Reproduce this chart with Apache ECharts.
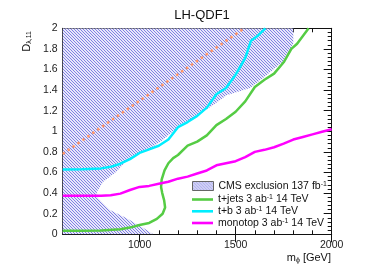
<!DOCTYPE html>
<html>
<head>
<meta charset="utf-8">
<script src="https://cdn.jsdelivr.net/npm/echarts@6/dist/echarts.min.js"></script>
<style>html,body{margin:0;padding:0;background:#fff}#c{width:390px;height:280px}</style>
</head>
<body>
<div id="c"></div>
<script>
// ---- data ----
const titleText = 'LH-QDF1';
const xTickLabels = [1000, 1500, 2000];
const tjetsCurve = [[600,0.035],[700,0.035],[800,0.037],[900,0.05],[950,0.065],[1000,0.09],[1050,0.11],[1090,0.15],[1120,0.2],[1133,0.26],[1128,0.33],[1118,0.40],[1112,0.46],[1115,0.53],[1130,0.62],[1150,0.69],[1175,0.74],[1200,0.77],[1250,0.86],[1300,0.9],[1350,0.96],[1400,1.06],[1450,1.12],[1500,1.19],[1550,1.29],[1600,1.43],[1650,1.5],[1700,1.56],[1750,1.67],[1790,1.8],[1820,1.85],[1880,2.0]];
const tbCurve = [[600,0.63],[700,0.632],[800,0.64],[850,0.655],[900,0.685],[950,0.73],[1000,0.79],[1050,0.825],[1100,0.86],[1150,0.92],[1200,1.04],[1250,1.09],[1300,1.15],[1350,1.23],[1400,1.36],[1450,1.42],[1500,1.55],[1550,1.71],[1580,1.88],[1610,1.92],[1655,2.0]];
const monotopCurve = [[600,0.375],[800,0.375],[850,0.38],[900,0.395],[950,0.43],[1000,0.46],[1050,0.47],[1100,0.49],[1150,0.51],[1200,0.54],[1250,0.56],[1300,0.59],[1350,0.62],[1400,0.67],[1450,0.69],[1500,0.71],[1550,0.75],[1600,0.8],[1650,0.82],[1700,0.845],[1750,0.88],[1800,0.92],[1850,0.945],[1900,0.97],[1950,0.995],[2000,1.02]];
const cmsExclusion = [[600,0],[1072,0],[1020,0.06],[933,0.155],[846,0.236],[785,0.35],[777,0.41],[811,0.51],[881,0.61],[933,0.72],[1003,0.79],[1060,0.84],[1110,0.9],[1193,1.03],[1280,1.13],[1380,1.25],[1453,1.35],[1575,1.42],[1644,1.52],[1748,1.68],[1800,1.85],[1800,2.0],[600,2.0]];
const diagonalLine = [[600,0.78],[1545,2.0]];
const seriesNames = ['CMS exclusion 137 fb-1','t+jets 3 ab-1 14 TeV','t+b 3 ab-1 14 TeV','monotop 3 ab-1 14 TeV'];
const seriesColors = [null, '#55cc44', '#00eeff', '#ff00ff'];

// ---- hatch pattern ----
function makeHatch(){
  const c = document.createElement('canvas');
  c.width = 3; c.height = 3;
  const g = c.getContext('2d');
  g.fillStyle = 'rgb(232,232,250)'; g.fillRect(0,0,3,3);
  g.fillStyle = 'rgb(128,128,228)';
  for (let i=0;i<3;i++){ g.fillRect(i,i,1,1); }
  return c;
}
const hatch = {image: makeHatch(), repeat: 'repeat'};

const chart = echarts.init(document.getElementById('c'), null, {renderer:'canvas'});
const FONT = 'Liberation Sans, Arial, Helvetica, sans-serif';
const gridBox = {left: 62.7, right: 58.3, top: 28.3, bottom: 45.7};
const tickCol = '#111';
const legendRich = {sup:{fontSize:7, fontFamily:FONT, color:'#111', verticalAlign:'top', lineHeight:11}};
function legendFmt(n){ return n.replace(/(fb|ab)-1/, '$1{sup|-1}'); }
const lineIcon = 'path://M0,0 L21,0 L21,2.6 L0,2.6 Z';
const legendRowCenters = [186, 199.5, 211.3, 223];

const legends = seriesNames.map((n, i) => ({
  orient:'vertical', left:192, top: legendRowCenters[i] - 5.5, padding:0, itemWidth:21, itemHeight:9,
  textStyle:{fontFamily:FONT, fontSize:10.5, color:'#111', lineHeight:11, rich: legendRich},
  formatter: legendFmt, selectedMode:false,
  data:[ i === 0
    ? {name:n, icon:'rect', itemStyle:{color:hatch, borderColor:'#666', borderWidth:1}}
    : {name:n, icon:lineIcon, itemStyle:{color:seriesColors[i], borderWidth:0}} ]
}));

const option = {
  animation: false,
  backgroundColor: '#fff',
  grid: Object.assign({containLabel:false, show:false}, gridBox),
  xAxis: [
    {type:'value', position:'bottom', min:600, max:2000, interval:100,
     axisLine:{show:true, onZero:false, lineStyle:{color:tickCol, width:1}},
     axisTick:{show:true, inside:true, length:4, lineStyle:{color:tickCol}},
     axisLabel:{color:'#222', fontFamily:FONT, fontSize:10.5, margin:5,
       formatter: v => xTickLabels.indexOf(v) >= 0 ? String(v) : ''},
     splitLine:{show:false}},
    {type:'value', position:'bottom', min:600, max:2000, interval:100,
     axisLine:{show:false}, axisLabel:{show:false}, splitLine:{show:false},
     axisTick:{show:true, inside:true, length:8, customValues: xTickLabels, lineStyle:{color:tickCol}}},
    {type:'value', position:'top', min:600, max:2000, interval:100,
     axisLine:{show:true, onZero:false, lineStyle:{color:tickCol, width:1}},
     axisTick:{show:true, inside:true, length:4, lineStyle:{color:tickCol}},
     axisLabel:{show:false}, splitLine:{show:false}},
    {type:'value', position:'top', min:600, max:2000, interval:100,
     axisLine:{show:false}, axisLabel:{show:false}, splitLine:{show:false},
     axisTick:{show:true, inside:true, length:8, customValues: xTickLabels, lineStyle:{color:tickCol}}}
  ],
  yAxis: [
    {type:'value', position:'left', min:0, max:2, interval:0.2,
     axisLine:{show:true, onZero:false, lineStyle:{color:tickCol, width:1}},
     axisTick:{show:true, inside:true, length:8, lineStyle:{color:tickCol}},
     minorTick:{show:true, splitNumber:5, length:4, lineStyle:{color:tickCol}},
     axisLabel:{color:'#222', fontFamily:FONT, fontSize:10.5, margin:5},
     splitLine:{show:false}},
    {type:'value', position:'right', min:0, max:2, interval:0.2,
     axisLine:{show:true, onZero:false, lineStyle:{color:tickCol, width:1}},
     axisTick:{show:true, inside:true, length:8, lineStyle:{color:tickCol}},
     minorTick:{show:true, splitNumber:5, length:4, lineStyle:{color:tickCol}},
     axisLabel:{show:false}, splitLine:{show:false}}
  ],
  legend: legends,
  graphic: [
    {type:'text', x:202, y:15, style:{text:titleText, font:'13px '+FONT, fill:'#111', textAlign:'center', textVerticalAlign:'middle'}},
    {type:'text', x:27, y:31, rotation:Math.PI/2,
     style:{text:'D{sub|λ,11}', fill:'#111', fontFamily:FONT, fontSize:11, textAlign:'right', textVerticalAlign:'middle',
       rich:{sub:{fontSize:7, fontFamily:FONT, fill:'#111', padding:[5,0,0,0]}}}},
    {type:'text', x:331, y:258,
     style:{text:'m{sub|ϕ} [GeV]', fill:'#111', fontFamily:FONT, fontSize:11, textAlign:'right', textVerticalAlign:'middle',
       rich:{sub:{fontSize:7, fontFamily:FONT, fill:'#111', padding:[5,0,0,0]}}}}
  ],
  series: [
    {name:seriesNames[0], type:'custom', xAxisIndex:0, yAxisIndex:0, z:1,
     data:[0],
     clip:true,
     renderItem: function(params, api){
       const pts = cmsExclusion.map(p => api.coord(p));
       return {type:'polygon', shape:{points:pts}, style:{fill:hatch, stroke:null}};
     },
     itemStyle:{color:hatch}},
    {name:'diag', type:'line', data:diagonalLine, showSymbol:false, symbol:'none', z:3,
     lineStyle:{color:'#ff9466', width:2.5, type:[2.5,3.5]}},
    {name:seriesNames[1], type:'line', data:tjetsCurve, showSymbol:false, symbol:'none', z:4,
     lineStyle:{color:seriesColors[1], width:2.5}, itemStyle:{color:seriesColors[1]}},
    {name:seriesNames[2], type:'line', data:tbCurve, showSymbol:false, symbol:'none', z:4,
     lineStyle:{color:seriesColors[2], width:2.5}, itemStyle:{color:seriesColors[2]}},
    {name:seriesNames[3], type:'line', data:monotopCurve, showSymbol:false, symbol:'none', z:4,
     lineStyle:{color:seriesColors[3], width:2.5}, itemStyle:{color:seriesColors[3]}}
  ]
};
chart.setOption(option);
</script>
</body>
</html>
